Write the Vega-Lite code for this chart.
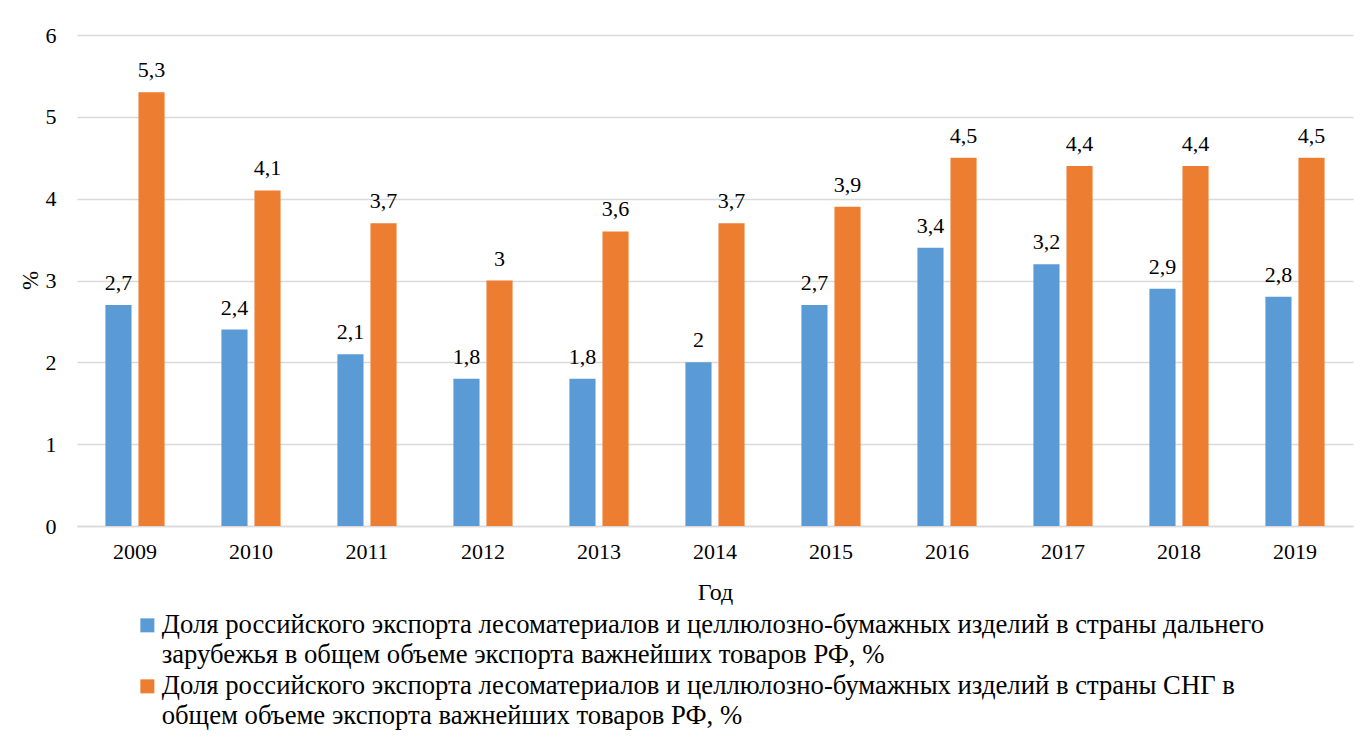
{
  "$schema": "https://vega.github.io/schema/vega-lite/v6.json",
  "autosize": {"type": "none"},
  "width": 1276,
  "height": 491,
  "padding": {"left": 77, "top": 35, "right": 15, "bottom": 214},
  "background": "white",
  "config": {
    "locale": {"number": {"decimal": ",", "thousands": " ", "grouping": [3], "currency": ["", ""]}},
    "font": "'Times New Roman', 'Liberation Serif', Tinos, serif",
    "style": {"guide-label": {"lineHeight": 30}},
    "view": {"stroke": null}
  },
  "data": {
    "values": [
      {"year": "2009", "series": "far", "value": 2.7}, {"year": "2009", "series": "cis", "value": 5.3},
      {"year": "2010", "series": "far", "value": 2.4}, {"year": "2010", "series": "cis", "value": 4.1},
      {"year": "2011", "series": "far", "value": 2.1}, {"year": "2011", "series": "cis", "value": 3.7},
      {"year": "2012", "series": "far", "value": 1.8}, {"year": "2012", "series": "cis", "value": 3},
      {"year": "2013", "series": "far", "value": 1.8}, {"year": "2013", "series": "cis", "value": 3.6},
      {"year": "2014", "series": "far", "value": 2}, {"year": "2014", "series": "cis", "value": 3.7},
      {"year": "2015", "series": "far", "value": 2.7}, {"year": "2015", "series": "cis", "value": 3.9},
      {"year": "2016", "series": "far", "value": 3.4}, {"year": "2016", "series": "cis", "value": 4.5},
      {"year": "2017", "series": "far", "value": 3.2}, {"year": "2017", "series": "cis", "value": 4.4},
      {"year": "2018", "series": "far", "value": 2.9}, {"year": "2018", "series": "cis", "value": 4.4},
      {"year": "2019", "series": "far", "value": 2.8}, {"year": "2019", "series": "cis", "value": 4.5}
    ]
  },
  "encoding": {
    "x": {
      "field": "year", "type": "nominal",
      "scale": {"paddingInner": 0.49, "paddingOuter": 0.245},
      "axis": {
        "title": "Год", "titleFontSize": 24, "titleFontWeight": "normal", "titleColor": "#000",
        "titleY": 66, "titleBaseline": "middle",
        "labelAngle": 0, "labelFontSize": 22, "labelColor": "#000", "labelPadding": 15,
        "ticks": false, "domainColor": "#d9d9d9", "domainWidth": 1.5, "grid": false
      }
    },
    "xOffset": {"field": "series", "type": "nominal", "scale": {"domain": ["far", "cis"], "paddingInner": 0.21}},
    "y": {
      "field": "value", "type": "quantitative",
      "scale": {"domain": [0, 6]},
      "axis": {
        "title": "%", "titleFontSize": 23, "titleFontWeight": "normal", "titleColor": "#000",
        "titleX": -47, "titleY": 245, "titleAngle": 270, "titleBaseline": "middle", "titleAlign": "center",
        "values": [0, 1, 2, 3, 4, 5, 6], "labelFontSize": 22, "labelColor": "#000", "labelPadding": 21,
        "ticks": false, "domain": false, "gridColor": "#d9d9d9", "gridWidth": 1.5
      }
    }
  },
  "layer": [
    {
      "mark": {"type": "bar"},
      "encoding": {
        "color": {
          "field": "series", "type": "nominal",
          "scale": {"domain": ["far", "cis"], "range": ["#5b9bd5", "#ed7d31"]},
          "legend": {
            "title": null, "orient": "none", "legendX": 57, "legendY": 577, "direction": "vertical",
            "symbolType": "square", "symbolSize": 196, "symbolStrokeWidth": 0,
            "labelFontSize": 26.7, "labelColor": "#000", "labelLimit": 1290, "rowPadding": 3, "labelOffset": 1,
            "labelExpr": "datum.value == 'far' ? ['Доля российского экспорта лесоматериалов и целлюлозно-бумажных изделий в страны дальнего', 'зарубежья в общем объеме экспорта важнейших товаров РФ, %'] : ['Доля российского экспорта лесоматериалов и целлюлозно-бумажных изделий в страны СНГ в', 'общем объеме экспорта важнейших товаров РФ, %']"
          }
        }
      }
    },
    {
      "mark": {"type": "text", "baseline": "bottom", "dy": -10, "fontSize": 22, "color": "#000"},
      "encoding": {
        "text": {"field": "value", "type": "quantitative", "format": "~g"}
      }
    }
  ]
}
